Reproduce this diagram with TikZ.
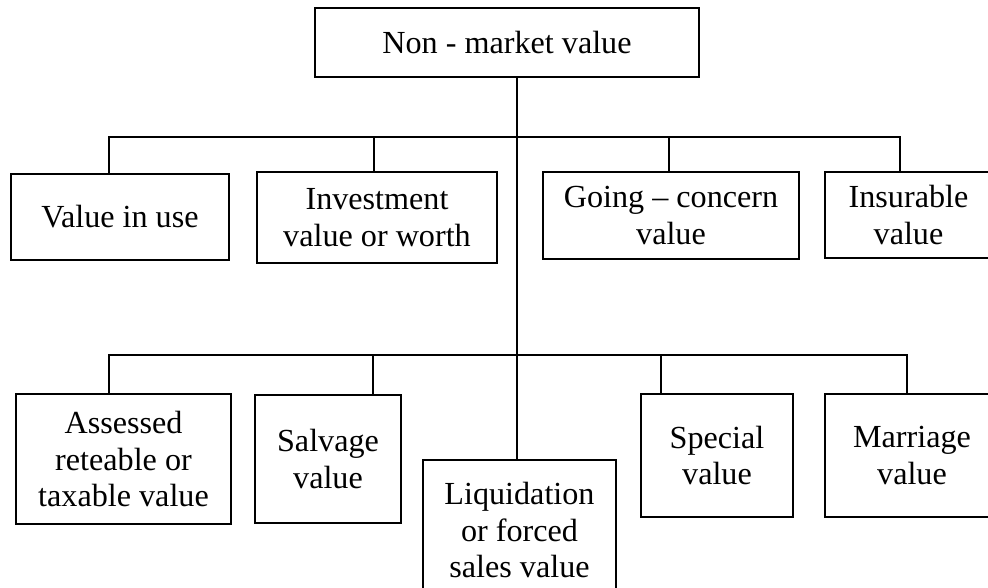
\documentclass[tikz,border=0pt]{standalone}
\usepackage{fontspec}
\setmainfont{Liberation Serif}
\usepackage{tikz}
\usetikzlibrary{calc}
\tikzset{
  box/.style={draw=black, line width=1.1pt, align=center, inner sep=2pt,
    font=\fontsize{18.3pt}{21pt}\selectfont},
  wire/.style={draw=black, line width=1.1pt},
}

\begin{document}
\begin{tikzpicture}
  \useasboundingbox (0,0) rectangle (19.76,-11.74);
  \clip (0,0) rectangle (19.76,-11.74);
  % top
  \node[box,minimum width=7.68cm,minimum height=1.38cm] (top) at (10.14,-0.85) {Non - market value};
  % first row
  \node[box,minimum width=4.36cm,minimum height=1.72cm] (vuse) at (2.40,-4.34) {Value in use};
  \node[box,minimum width=4.80cm,minimum height=1.82cm] (invest) at (7.54,-4.35) {Investment\\value or worth};
  \node[box,minimum width=5.12cm,minimum height=1.74cm] (going) at (13.42,-4.31) {Going -- concern\\value};
  \node[box,minimum width=3.34cm,minimum height=1.72cm] (insur) at (18.17,-4.30) {Insurable\\value};
  % second row
  \node[box,minimum width=4.30cm,minimum height=2.60cm] (assess) at (2.47,-9.18) {Assessed\\reteable or\\taxable value};
  \node[box,minimum width=2.92cm,minimum height=2.56cm] (salvage) at (6.56,-9.18) {Salvage\\value};
  \node[box,minimum width=3.86cm,minimum height=2.80cm] (liquid) at (10.39,-10.60) {Liquidation\\or forced\\sales value};
  \node[box,minimum width=3.04cm,minimum height=2.46cm] (special) at (14.34,-9.11) {Special\\value};
  \node[box,minimum width=3.48cm,minimum height=2.46cm] (marriage) at (18.24,-9.11) {Marriage\\value};
  % bars
  \coordinate (bar1) at (0,-2.74);
  \coordinate (bar2) at (0,-7.10);
  \coordinate (t) at ([xshift=0.2cm]top.south);
  \coordinate (a1) at ([xshift=-0.22cm]vuse.north);
  \coordinate (a2) at ([xshift=-0.06cm]invest.north);
  \coordinate (a3) at ([xshift=-0.04cm]going.north);
  \coordinate (a4) at ([xshift=-0.17cm]insur.north);
  \coordinate (b1) at ([xshift=-0.29cm]assess.north);
  \coordinate (b2) at ([xshift=0.90cm]salvage.north);
  \coordinate (b3) at ([xshift=-1.12cm]special.north);
  \coordinate (b4) at ([xshift=-0.10cm]marriage.north);
  \draw[wire] (t) -- (t |- liquid.north);
  \draw[wire] (a1) |- (a4 |- bar1) -- (a4);
  \draw[wire] (a2) -- (a2 |- bar1);
  \draw[wire] (a3) -- (a3 |- bar1);
  \draw[wire] (b1) |- (b4 |- bar2) -- (b4);
  \draw[wire] (b2) -- (b2 |- bar2);
  \draw[wire] (b3) -- (b3 |- bar2);
\end{tikzpicture}
\end{document}
